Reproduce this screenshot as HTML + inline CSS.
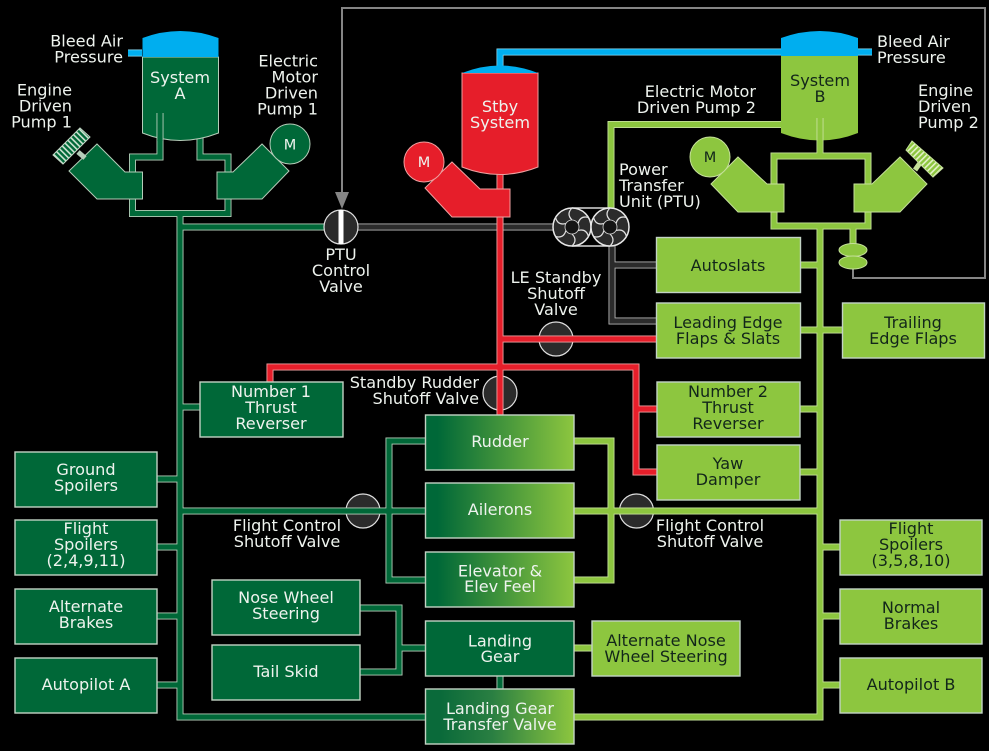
<!DOCTYPE html>
<html lang="en"><head><meta charset="utf-8"><title>Hydraulic System Diagram</title>
<style>
html,body{margin:0;padding:0;background:#000;width:989px;height:751px;overflow:hidden}
svg{display:block}
text{font-family:"DejaVu Sans","Liberation Sans",sans-serif;font-size:16.1px;fill:#eef3ee}
.m{text-anchor:middle}.e{text-anchor:end}
.d{fill:#12261a}
.box{stroke:#c2d3c4;stroke-width:1.4}
.dg{fill:#006838}.lg{fill:#8dc63f}
.p{fill:none;stroke-linejoin:miter;stroke-linecap:butt}
</style></head><body>
<svg width="989" height="751" viewBox="0 0 989 751" xmlns="http://www.w3.org/2000/svg">
<defs>
<linearGradient id="g" x1="0" x2="1" y1="0" y2="0"><stop offset="0.08" stop-color="#006838"/><stop offset="1" stop-color="#8dc63f"/></linearGradient>
<linearGradient id="g2" x1="0" x2="1" y1="0" y2="0"><stop offset="0.1" stop-color="#0a6a3a"/><stop offset="0.45" stop-color="#2a7f42"/><stop offset="1" stop-color="#8dc63f"/></linearGradient>
<pattern id="hatchD" width="4" height="4" patternUnits="userSpaceOnUse" patternTransform="rotate(-45)"><rect width="4" height="4" fill="#006838"/><rect width="1.6" height="4" fill="#cfe3d2"/></pattern>
<pattern id="hatchL" width="4" height="4" patternUnits="userSpaceOnUse" patternTransform="rotate(45)"><rect width="4" height="4" fill="#8dc63f"/><rect width="1.6" height="4" fill="#e4f2c8"/></pattern>
<g id="gear">
<circle r="19" fill="#2b2b2b" stroke="#e8e8e8" stroke-width="1.5"/>
<g fill="none" stroke="#e0e0e0" stroke-width="1.2">
<path d="M0-7Q-6-13 0-19"/><path d="M0-7Q-6-13 0-19" transform="rotate(60)"/><path d="M0-7Q-6-13 0-19" transform="rotate(120)"/><path d="M0-7Q-6-13 0-19" transform="rotate(180)"/><path d="M0-7Q-6-13 0-19" transform="rotate(240)"/><path d="M0-7Q-6-13 0-19" transform="rotate(300)"/>
</g>
<circle r="7" fill="#141414" stroke="#d8d8d8" stroke-width="0.8"/>
</g>
<g id="pipesDark">
<path d="M160 113V157H132.500V213.500H228V157H200V135"/>
<path d="M180 213V717H426"/>
<path d="M180 227H326"/>
<path d="M180 407H201"/>
<path d="M157 479H180"/>
<path d="M157 547H180"/>
<path d="M157 616H180"/>
<path d="M157 685H180"/>
<path d="M180 511H426"/>
<path d="M426 441H389V580H426"/>
<path d="M360 608H399V672H360"/>
<path d="M399 648H426"/>
<path d="M500 675V690"/>
</g>
<g id="pipesLight">
<path d="M820 113V156"/>
<path d="M774 156H868V226H774Z"/>
<path d="M820 226V717H573"/>
<path d="M853 226V250"/>
<path d="M782 124.500H611V208"/>
<path d="M799 265H820"/>
<path d="M799 330H843"/>
<path d="M799 409H820"/>
<path d="M799 472H820"/>
<path d="M573 511H820"/>
<path d="M820 547H841"/>
<path d="M820 616H841"/>
<path d="M820 685H841"/>
<path d="M573 441H611V580H573"/>
<path d="M573 648H593"/>
</g>
<g id="pipesRed">
<path d="M500 170V415"/>
<path d="M500 339H658"/>
<path d="M270 383V367H636V472H658"/>
<path d="M636 409H658"/>
</g>
<g id="pipesGrey">
<path d="M358 227H555"/>
<path d="M612 244V321H658"/>
<path d="M612 265H658"/>
</g>
<g id="pipesBlue">
<path d="M782 52H500V68"/>
<path d="M858 52H872"/>
<path d="M142 53H128"/>
</g>
</defs>

<rect width="989" height="751" fill="#000"/>

<!-- control line -->
<path d="M342 195V8H985V278H853V262" fill="none" stroke="#858585" stroke-width="2"/>
<polygon points="335,192 349,192 342,209" fill="#858585"/>

<!-- valves under pipes -->
<g fill="#2b2b2b" stroke="#e0e0e0" stroke-width="1.2">
<circle cx="556" cy="339" r="17"/>
<circle cx="500" cy="393" r="17"/>
<circle cx="363" cy="511" r="17"/>
<circle cx="636.500" cy="511" r="17"/>
</g>

<!-- pipes -->
<use href="#pipesGrey" class="p" stroke="#b5b5b5" stroke-width="7"/>
<use href="#pipesGrey" class="p" stroke="#2b2b2b" stroke-width="5.200"/>
<use href="#pipesDark" class="p" stroke="#b5cdb9" stroke-width="7"/>
<use href="#pipesDark" class="p" stroke="#006838" stroke-width="5.200"/>
<use href="#pipesLight" class="p" stroke="#c5e09a" stroke-width="7"/>
<use href="#pipesLight" class="p" stroke="#8dc63f" stroke-width="5.200"/>
<use href="#pipesRed" class="p" stroke="#eea0a0" stroke-width="7"/>
<use href="#pipesRed" class="p" stroke="#e61e2a" stroke-width="5.200"/>
<use href="#pipesBlue" class="p" stroke="#8adcf6" stroke-width="7"/>
<use href="#pipesBlue" class="p" stroke="#00aeef" stroke-width="5.500"/>

<!-- Tank A -->
<path d="M142.500 57V133Q180 148 218.500 133V57Z" fill="#006838" stroke="#b5cdb9" stroke-width="1"/>
<path d="M142.500 38Q180 24 218.500 38V57H142.500Z" fill="#00aeef"/>
<path d="M160 113V140" class="p" stroke="#b5cdb9" stroke-width="7"/><path d="M160 112V141" class="p" stroke="#006838" stroke-width="5.200"/>
<text class="m" x="180" y="83">System</text><text class="m" x="180" y="99">A</text>

<!-- Pumps A -->
<polygon points="97,144 125,172 142.500,172 142.500,199 97,199 69,171" fill="#006838" stroke="#b5cdb9"/>
<polygon points="262,144 233,172 217,172 217,199 262,199 289,171" fill="#006838" stroke="#b5cdb9"/>
<circle cx="290" cy="144" r="20" fill="#006838" stroke="#b5cdb9"/>
<text class="m" x="290" y="149.500" style="font-size:14.500px">M</text>
<path d="M78 152L85 158" stroke="#b5cdb9" stroke-width="5"/>
<polygon points="80,128 90,137 63,164 53,155" fill="url(#hatchD)" stroke="#c2d8c6"/>

<!-- Stby tank -->
<path d="M462 73V167Q500 182 538 167V73Z" fill="#e61e2a" stroke="#eea0a0" stroke-width="1"/>
<path d="M462 73Q500 58 538 73Z" fill="#00aeef"/>
<text class="m" x="500" y="112">Stby</text><text class="m" x="500" y="128">System</text>
<polygon points="452,162 480,189 510,189 510,217 452,217 425,188" fill="#e61e2a" stroke="#eea0a0"/>
<circle cx="424" cy="162" r="20" fill="#e61e2a" stroke="#eea0a0"/>
<text class="m" x="424" y="167" style="font-size:14.500px">M</text>

<!-- Tank B -->
<path d="M781 56V133Q820 148 858 133V56Z" fill="#8dc63f"/>
<path d="M781 38Q820 24 858 38V56H781Z" fill="#00aeef"/>
<path d="M820 118V141" class="p" stroke="#c5e09a" stroke-width="7"/><path d="M820 117V155" class="p" stroke="#8dc63f" stroke-width="5.200"/>
<text class="m d" x="820" y="86">System</text><text class="m d" x="820" y="102">B</text>

<!-- Pumps B -->
<polygon points="738,157 767,184 784,184 784,212 738,212 711,184" fill="#8dc63f" stroke="#c5e09a"/>
<polygon points="900,157 872,184 854,184 854,212 900,212 927,184" fill="#8dc63f" stroke="#c5e09a"/>
<circle cx="710" cy="157" r="20" fill="#8dc63f" stroke="#c5e09a"/>
<text class="m d" x="710" y="162" style="font-size:14.500px">M</text>
<path d="M915 170L920 163" stroke="#c5e09a" stroke-width="5"/>
<polygon points="912,141 943,168 933,177 906,150" fill="url(#hatchL)" stroke="#c5e09a"/>
<ellipse cx="853" cy="250" rx="14" ry="6.500" fill="#8dc63f" stroke="#c5e09a"/>
<ellipse cx="853" cy="262.500" rx="14" ry="6.500" fill="#8dc63f" stroke="#c5e09a"/>

<!-- PTU valve -->
<circle cx="341" cy="227" r="17" fill="#2b2b2b" stroke="#e0e0e0" stroke-width="1.200"/>
<rect x="338.500" y="210" width="5" height="34" fill="#fff"/>

<!-- PTU -->
<path d="M572 208H610M572 246H610" stroke="#d8d8d8" stroke-width="1.400"/>
<use href="#gear" x="572" y="227"/>
<use href="#gear" x="610" y="227"/>

<!-- Boxes light green -->
<g class="lg box">
<rect x="656.500" y="237.500" width="144" height="55"/>
<rect x="656.500" y="303" width="144" height="55"/>
<rect x="842.500" y="303" width="142" height="55"/>
<rect x="657" y="382" width="143" height="55"/>
<rect x="657" y="445" width="143" height="55"/>
<rect x="840" y="520" width="142" height="55"/>
<rect x="840" y="589" width="142" height="55"/>
<rect x="840" y="658" width="142" height="55"/>
<rect x="592" y="621" width="148" height="55"/>
</g>
<!-- Boxes dark green -->
<g class="dg box">
<rect x="200" y="382" width="143" height="55"/>
<rect x="15" y="452" width="142" height="55"/>
<rect x="15" y="520" width="142" height="55"/>
<rect x="15" y="589" width="142" height="55"/>
<rect x="15" y="658" width="142" height="55"/>
<rect x="212" y="580" width="148" height="55"/>
<rect x="212" y="645" width="148" height="55"/>
<rect x="425.500" y="621" width="148.500" height="55"/>
</g>
<!-- Gradient boxes -->
<g fill="url(#g)" class="box">
<rect x="425.500" y="415" width="148.500" height="55"/>
<rect x="425.500" y="483" width="148.500" height="55"/>
<rect x="425.500" y="552" width="148.500" height="55"/>
</g>
<rect x="425.500" y="689" width="148.500" height="55" fill="url(#g2)" class="box"/>

<!-- Labels -->
<text class="e" x="123" y="46.500">Bleed Air</text><text class="e" x="123" y="62.500">Pressure</text>
<text class="e" x="72" y="95.500">Engine</text><text class="e" x="72" y="111.500">Driven</text><text class="e" x="72" y="127.500">Pump 1</text>
<text class="e" x="318" y="66.500">Electric</text><text class="e" x="318" y="82.500">Motor</text><text class="e" x="318" y="98.500">Driven</text><text class="e" x="318" y="114.500">Pump 1</text>
<text class="e" x="756" y="97">Electric Motor</text><text class="e" x="756" y="113">Driven Pump 2</text>
<text x="619" y="175">Power</text><text x="619" y="191">Transfer</text><text x="619" y="207">Unit (PTU)</text>
<text x="877" y="47">Bleed Air</text><text x="877" y="63">Pressure</text>
<text x="918" y="96">Engine</text><text x="918" y="112">Driven</text><text x="918" y="128">Pump 2</text>
<text class="m" x="341" y="260">PTU</text><text class="m" x="341" y="276">Control</text><text class="m" x="341" y="292">Valve</text>
<text class="m" x="556" y="283">LE Standby</text><text class="m" x="556" y="299">Shutoff</text><text class="m" x="556" y="315">Valve</text>
<text class="e" x="479" y="388">Standby Rudder</text><text class="e" x="479" y="404">Shutoff Valve</text>
<text class="m" x="287" y="531">Flight Control</text><text class="m" x="287" y="547">Shutoff Valve</text>
<text class="m" x="710" y="531">Flight Control</text><text class="m" x="710" y="547">Shutoff Valve</text>

<g class="d">
<text class="m d" x="728" y="271">Autoslats</text>
<text class="m d" x="728" y="328">Leading Edge</text><text class="m d" x="728" y="344">Flaps &amp; Slats</text>
<text class="m d" x="913" y="328">Trailing</text><text class="m d" x="913" y="344">Edge Flaps</text>
<text class="m d" x="728" y="397">Number 2</text><text class="m d" x="728" y="413">Thrust</text><text class="m d" x="728" y="429">Reverser</text>
<text class="m d" x="728" y="469">Yaw</text><text class="m d" x="728" y="485">Damper</text>
<text class="m d" x="911" y="534">Flight</text><text class="m d" x="911" y="550">Spoilers</text><text class="m d" x="911" y="566">(3,5,8,10)</text>
<text class="m d" x="911" y="613">Normal</text><text class="m d" x="911" y="629">Brakes</text>
<text class="m d" x="911" y="690">Autopilot B</text>
<text class="m d" x="666" y="646">Alternate Nose</text><text class="m d" x="666" y="662">Wheel Steering</text>
</g>

<text class="m" x="271" y="397">Number 1</text><text class="m" x="271" y="413">Thrust</text><text class="m" x="271" y="429">Reverser</text>
<text class="m" x="86" y="475">Ground</text><text class="m" x="86" y="491">Spoilers</text>
<text class="m" x="86" y="534">Flight</text><text class="m" x="86" y="550">Spoilers</text><text class="m" x="86" y="566">(2,4,9,11)</text>
<text class="m" x="86" y="612">Alternate</text><text class="m" x="86" y="628">Brakes</text>
<text class="m" x="86" y="690">Autopilot A</text>
<text class="m" x="500" y="447">Rudder</text>
<text class="m" x="500" y="515">Ailerons</text>
<text class="m" x="500" y="576.500">Elevator &amp;</text><text class="m" x="500" y="592">Elev Feel</text>
<text class="m" x="286" y="603">Nose Wheel</text><text class="m" x="286" y="619">Steering</text>
<text class="m" x="286" y="677">Tail Skid</text>
<text class="m" x="500" y="646.500">Landing</text><text class="m" x="500" y="662">Gear</text>
<text class="m" x="500" y="714">Landing Gear</text><text class="m" x="500" y="730">Transfer Valve</text>
</svg>
</body></html>
